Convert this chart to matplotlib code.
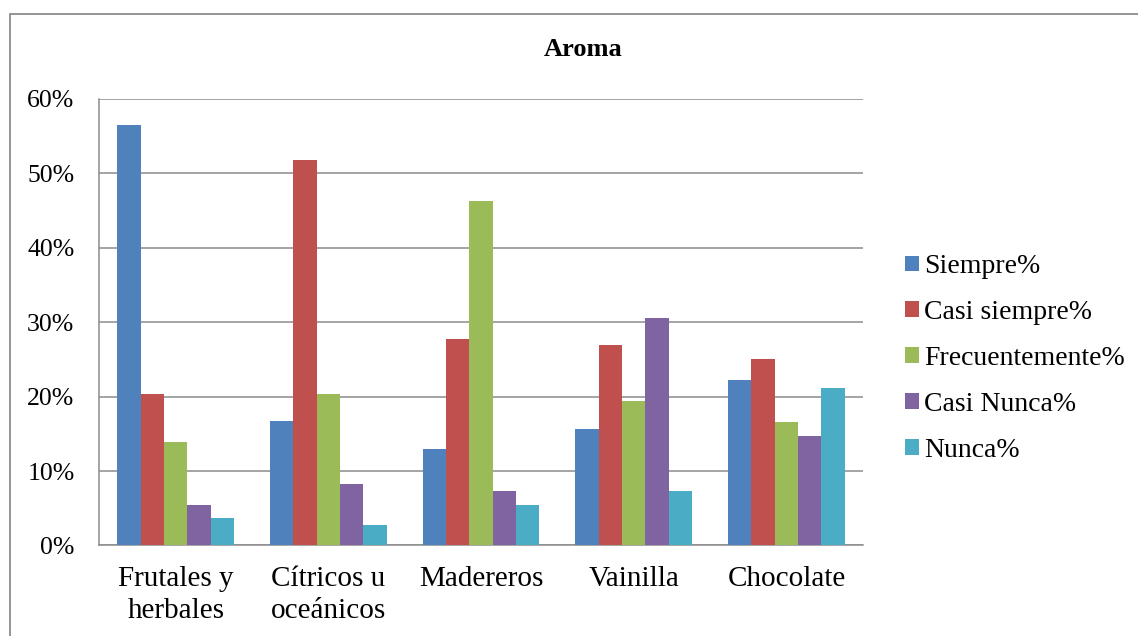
# -*- coding: utf-8 -*-
"""
Grouped bar chart of how often each aroma family is perceived.
"""

import matplotlib
matplotlib.use("Agg")
import matplotlib.pyplot as plt
from matplotlib.patches import Rectangle
from matplotlib.ticker import FuncFormatter
import numpy as np

#Data
categories = ["Frutales y\nherbales", "Cítricos u\noceánicos", "Madereros",
              "Vainilla", "Chocolate"]
series_names = ["Siempre%", "Casi siempre%", "Frecuentemente%",
                "Casi Nunca%", "Nunca%"]
siempre = [0.564, 0.167, 0.129, 0.157, 0.222]
casi_siempre = [0.204, 0.518, 0.277, 0.269, 0.250]
frecuentemente = [0.139, 0.203, 0.463, 0.194, 0.166]
casi_nunca = [0.055, 0.083, 0.073, 0.305, 0.147]
nunca = [0.037, 0.027, 0.055, 0.073, 0.212]

series = [siempre, casi_siempre, frecuentemente, casi_nunca, nunca]
colors = ["#4F81BD", "#C0504D", "#9BBB59", "#8064A2", "#4BACC6"]
grid_color = "#8c8c8c"

plt.rcParams["font.family"] = ["Liberation Serif", "DejaVu Serif"]

fig = plt.figure(figsize=(11.38, 6.36), dpi=100)
ax = fig.add_axes([0.0874, 0.1423, 0.6707, 0.7028])

x = np.arange(len(categories))
width = 0.153
for i, values in enumerate(series):
    ax.bar(x + (i - 2) * width, values, width, color=colors[i],
           label=series_names[i], zorder=3, linewidth=0)

ax.set_xlim(-0.5, len(categories) - 0.5)
ax.set_ylim(0, 0.6)
ax.set_yticks(np.arange(0, 0.61, 0.1))
ax.yaxis.set_major_formatter(FuncFormatter(lambda v, p: "%d%%" % round(v * 100)))
ax.set_xticks(x)
ax.set_xticklabels(categories, linespacing=1.3)
ax.tick_params(axis="y", length=0, pad=18, labelsize=18.5)
ax.tick_params(axis="x", length=0, pad=15, labelsize=21)

ax.grid(axis="y", color=grid_color, linewidth=1.1, zorder=0)
for side in ["top", "right"]:
    ax.spines[side].set_visible(False)
for side in ["left", "bottom"]:
    ax.spines[side].set_color(grid_color)
    ax.spines[side].set_linewidth(1.1)

fig.text(0.5123, 1 - 50 / 636, "Aroma", ha="center", va="center",
         fontsize=19, fontweight="bold")

ax.legend(loc="center left", bbox_to_anchor=(0.795, 0.4363),
          bbox_transform=fig.transFigure, frameon=False, fontsize=20,
          handlelength=0.5, handleheight=0.5, handletextpad=0.2,
          labelspacing=0.75, borderpad=0, borderaxespad=0)

# frame round the chart area
fig.patches.append(Rectangle((10 / 1138, -0.1), 1.2, 1.1 - 14 / 636,
                             transform=fig.transFigure, fill=False,
                             edgecolor=grid_color, linewidth=1.3))

plt.savefig("out.png", dpi=100)
